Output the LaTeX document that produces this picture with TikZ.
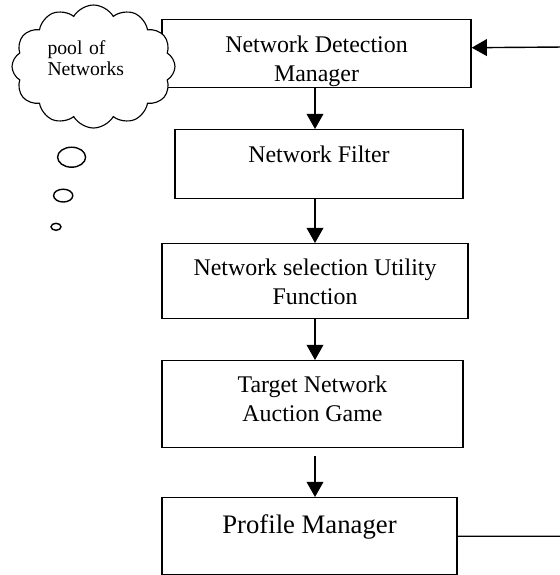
\documentclass[tikz,border=0pt]{standalone}
\usepackage{fontspec}
\setmainfont{Liberation Serif}
\usetikzlibrary{arrows.meta,shapes.symbols}

\tikzset{
  block/.style={draw, line width=1pt, fill=white, inner ysep=0pt, align=center,
    anchor=north, font=\fontsize{17pt}{20.6pt}\selectfont},
  flow/.style={line width=1pt, -{Triangle[length=0.38cm,width=0.42cm]}},
  bubble/.style={line width=1pt}
}

\begin{document}
\begin{tikzpicture}
\useasboundingbox (0,0) rectangle (14,-14.375);
% boxes of the selection chain
\node[block, minimum width=7.725cm, text height=1.55cm, text depth=0.15cm] (detect) at (7.9125,-0.475) {Network Detection\\Manager};
\node[block, minimum width=7.2cm, text height=0.825cm, text depth=0.9cm] (filter) at (7.975,-3.225) {Network Filter};
\node[block, minimum width=7.65cm, text height=1.525cm, text depth=0.35cm] (select) at (7.875,-6.075) {Network selection Utility\\Function};
\node[block, minimum width=7.525cm, text height=1.525cm, text depth=0.65cm] (auction) at (7.8125,-9.0) {Target Network\\Auction Game};
\node[block, minimum width=7.375cm, text height=0.9cm, text depth=1.025cm, font=\fontsize{19pt}{23pt}\selectfont] (profile) at (7.7375,-12.425) {Profile Manager};
% thought cloud
\node[cloud, draw, fill=white, line width=0.8pt, cloud puffs=12, cloud puff arc=120, aspect=1.33, inner sep=0pt, minimum width=4.075cm, minimum height=3.075cm, text width=2.3cm, text depth=0.95cm, align=left, font=\fontsize{14pt}{15pt}\selectfont] (pool) at (2.3375,-1.6625) {pool of\\Networks};
\draw[bubble] (1.79,-3.93) ellipse (0.35 and 0.25);
\draw[bubble] (1.58,-4.89) ellipse (0.24 and 0.16);
\draw[bubble] (1.4,-5.67) ellipse (0.125 and 0.0875);
% arrows
\draw[flow] (detect.south -| select) -- (filter.north -| select);
\draw[flow] (filter.south -| select) -- (select.north);
\draw[flow] (select.south) -- (auction.north -| select);
\draw[flow] ([yshift=-0.2cm]auction.south -| select) -- (profile.north -| select);
\coordinate (back) at (14.1,-1.175);
\draw[flow] (profile.east) -| (back) -- ([yshift=0.15cm]detect.east);
\end{tikzpicture}
\end{document}
